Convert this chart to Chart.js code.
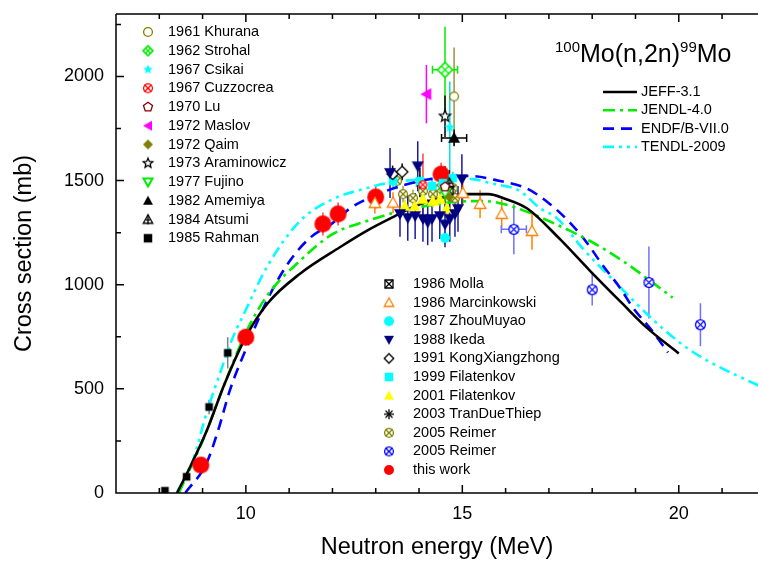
<!DOCTYPE html>
<html>
<head>
<meta charset="utf-8">
<script src="https://cdn.jsdelivr.net/npm/chart.js@4.4.1/dist/chart.umd.min.js"></script>
<style>
  html, body { margin: 0; padding: 0; background: #fff; overflow: hidden; }
  canvas { display: block; }
</style>
</head>
<body>
<canvas id="chart" width="758" height="563"></canvas>
<script>
// ---- evaluated curves: energy (MeV) / cross section (mb) ----
const jeffE  = [8.41, 8.7, 9.1, 9.5, 10.0, 10.5, 11.25, 12.17, 12.8, 13.4, 14.0, 14.6, 15.1, 15.6, 16.0, 16.5, 17.25, 17.95, 18.7, 19.26, 20.0];
const jeffS  = [0, 120, 301, 520, 750, 910, 1053, 1180, 1260, 1325, 1385, 1422, 1435, 1435, 1412, 1366, 1220, 1067, 909, 794, 670];
const jendlE = [8.45, 9.0, 9.5, 10.0, 10.5, 11.25, 12.01, 12.8, 13.4, 14.2, 15.0, 15.5, 16.0, 16.5, 17.25, 17.95, 18.7, 19.86];
const jendlS = [0, 250, 520, 770, 950, 1115, 1244, 1306, 1344, 1380, 1400, 1402, 1385, 1350, 1282, 1210, 1115, 938];
const endfE  = [8.6, 9.09, 9.36, 9.63, 10.0, 10.5, 11.0, 11.48, 12.01, 12.4, 13.0, 13.6, 14.2, 15.18, 15.87, 16.49, 17.02, 17.49, 17.88, 18.25, 18.64, 18.94, 19.38, 19.75];
const endfS  = [0, 143, 301, 493, 690, 930, 1110, 1225, 1297, 1366, 1430, 1475, 1505, 1522, 1498, 1462, 1388, 1297, 1201, 1091, 986, 890, 780, 675];
const tendlE = [8.4, 8.78, 9.09, 9.4, 9.67, 10.0, 10.5, 11.25, 12.01, 12.8, 13.26, 14.0, 14.6, 15.24, 15.64, 16.33, 16.79, 17.18, 17.79, 18.57, 19.26, 19.96, 20.53, 22.0];
const tendlS = [0, 158, 383, 574, 732, 880, 1090, 1306, 1411, 1464, 1488, 1505, 1510, 1507, 1488, 1450, 1368, 1321, 1172, 1005, 861, 732, 651, 500];

// ---- experimental data: energy, cross section, errors ----
const khuranaE = [14.81], khuranaS = [1904], khuranaErr = [235];
const strohalE = [14.6], strohalS = [2032], strohalErr = [207], strohalErrE = [0.29];
const csikaiE = [14.71], csikaiS = [1756], csikaiErr = [220];
const cuzzocreaE = [14.09], cuzzocreaS = [1480], cuzzocreaErr = [150];
const luE = [14.6], luS = [1470], luErr = [100];
const maslovE = [14.17], maslovS = [1915], maslovErr = [140];
const qaimE = [14.7], qaimS = [1420], qaimErr = [80];
const araminowiczE = [14.6], araminowiczS = [1809], araminowiczErr = [100];
const fujinoE = [14.6], fujinoS = [1440], fujinoErr = [80];
const amemiyaE = [14.81], amemiyaS = [1705], amemiyaErr = [40], amemiyaErrE = [0.29];
const atsumiE = [14.7], atsumiS = [1490], atsumiErr = [60];
const rahmanE = [8.13, 8.63, 9.15, 9.58], rahmanS = [11, 78, 413, 673], rahmanErr = [5, 10, 35, 75];
const mollaE = [14.7], mollaS = [1450], mollaErr = [50];
const marcinE = [12.98, 13.4, 15.01, 15.41, 15.91, 16.61], marcinS = [1392, 1394, 1440, 1388, 1340, 1258], marcinErr = [50, 50, 60, 67, 70, 90];
const zhouE = [14.6], zhouS = [1225], zhouErr = [30];
const ikedaE = [13.33, 13.56, 13.74, 13.91, 13.97, 14.09, 14.2, 14.3, 14.48, 14.6, 14.71, 14.83, 14.9, 14.99];
const ikedaS = [1537, 1340, 1321, 1330, 1569, 1316, 1300, 1316, 1330, 1290, 1316, 1340, 1364, 1507];
const ikedaErr = [120, 110, 110, 110, 120, 110, 110, 110, 110, 110, 110, 110, 110, 120];
const kongE = [13.39, 13.61], kongS = [1532, 1542], kongErr = [40, 40];
const filat99E = [13.4, 14.02, 14.3, 14.55, 14.78], filat99S = [1498, 1498, 1474, 1488, 1512], filat99Err = [30, 30, 30, 30, 30];
const filat01E = [13.67, 13.9, 14.09, 14.32, 14.48, 14.64], filat01S = [1378, 1378, 1411, 1402, 1411, 1368], filat01Err = [30, 30, 30, 30, 30, 30];
const tranE = [14.02], tranS = [1490], tranErr = [70];
const reimerAE = [13.49, 13.63, 13.86, 14.09, 14.32, 14.48, 14.78, 14.83], reimerAS = [1498, 1435, 1416, 1450, 1435, 1464, 1464, 1416], reimerAErr = [40, 40, 40, 40, 40, 40, 40, 40];
const reimerBE = [16.19, 18.0, 19.31, 20.5], reimerBS = [1266, 976, 1011, 808], reimerBErr = [120, 76, 173, 103], reimerBErrE = [0.29, 0, 0, 0];
const thisWorkE = [8.96, 10.0, 11.78, 12.13, 13.0, 14.51], thisWorkS = [134, 748, 1292, 1340, 1421, 1531], thisWorkErr = [25, 40, 55, 55, 55, 55];

const xTicks = [10, 15, 20];
const yTicks = [0, 500, 1000, 1500, 2000];

// ---- marker images ----
function makeMarker(kind, color, size) {
  const c = document.createElement('canvas');
  c.width = c.height = Math.ceil(size + 4);
  const g = c.getContext('2d');
  const m = c.width / 2, r = size / 2;
  g.lineWidth = 1.3; g.strokeStyle = color; g.fillStyle = color;
  const poly = (pts, fill) => {
    g.beginPath(); pts.forEach((p, i) => i ? g.lineTo(m + p[0] * r, m + p[1] * r) : g.moveTo(m + p[0] * r, m + p[1] * r));
    g.closePath();
    if (fill) g.fill(); else { g.fillStyle = '#fff'; g.fill(); g.stroke(); g.fillStyle = color; }
  };
  const star = () => { const p = []; for (let i = 0; i < 10; i++) { const a = -Math.PI / 2 + i * Math.PI / 5, k = i % 2 ? 0.45 : 1; p.push([k * Math.cos(a), k * Math.sin(a)]); } return p; };
  const line = (x1, y1, x2, y2) => { g.beginPath(); g.moveTo(m + x1 * r, m + y1 * r); g.lineTo(m + x2 * r, m + y2 * r); g.stroke(); };
  switch (kind) {
    case 'circle': g.beginPath(); g.arc(m, m, r, 0, 7); g.fill(); break;
    case 'oCircle': g.beginPath(); g.arc(m, m, r - 0.6, 0, 7); g.fillStyle = '#fff'; g.fill(); g.stroke(); break;
    case 'xCircle': g.beginPath(); g.arc(m, m, r - 0.6, 0, 7); g.fillStyle = '#fff'; g.fill(); g.stroke();
      line(-0.7, -0.7, 0.7, 0.7); line(-0.7, 0.7, 0.7, -0.7); break;
    case 'square': g.fillRect(m - r * 0.85, m - r * 0.85, r * 1.7, r * 1.7); break;
    case 'squareX': poly([[-0.8, -0.8], [0.8, -0.8], [0.8, 0.8], [-0.8, 0.8]], false);
      line(-0.8, -0.8, 0.8, 0.8); line(-0.8, 0.8, 0.8, -0.8); break;
    case 'tri': poly([[0, -1], [1, 0.8], [-1, 0.8]], true); break;
    case 'triO': poly([[0, -0.95], [0.95, 0.75], [-0.95, 0.75]], false); break;
    case 'triDown': poly([[0, 1], [1, -0.8], [-1, -0.8]], true); break;
    case 'triDownO': g.lineWidth = 2; poly([[0, 0.9], [0.9, -0.7], [-0.9, -0.7]], false); break;
    case 'triLeft': poly([[-1, 0], [0.8, -1], [0.8, 1]], true); break;
    case 'triPlus': poly([[0, -0.95], [0.95, 0.75], [-0.95, 0.75]], false);
      line(0, -1, 0, 1); line(-0.5, 0.1, 0.5, 0.1); break;
    case 'diamond': poly([[0, -1], [1, 0], [0, 1], [-1, 0]], true); break;
    case 'diamondO': poly([[0, -0.95], [0.95, 0], [0, 0.95], [-0.95, 0]], false); break;
    case 'crossDiamond': poly([[0, -1], [1, 0], [0, 1], [-1, 0]], false);
      line(-0.5, -0.5, 0.5, 0.5); line(-0.5, 0.5, 0.5, -0.5);
      line(0, -1, 0.5, -0.5); line(-1, 0, -0.5, -0.5); line(1, 0, 0.5, 0.5); line(0, 1, -0.5, 0.5);
      line(-0.5, 0.5, -1, 0); line(0.5, -0.5, 1, 0); line(0, -1, -0.5, -0.5); line(0, 1, 0.5, 0.5);
      break;
    case 'star5': poly(star(), true); break;
    case 'star5o': poly(star(), false); break;
    case 'pentagon': { const p = []; for (let i = 0; i < 5; i++) { const a = -Math.PI / 2 + i * 2 * Math.PI / 5; p.push([0.95 * Math.cos(a), 0.95 * Math.sin(a)]); } poly(p, false); break; }
    case 'asterisk': line(-1, 0, 1, 0); line(0, -1, 0, 1); line(-0.7, -0.7, 0.7, 0.7); line(-0.7, 0.7, 0.7, -0.7); break;
  }
  return c;
}

// label, E, S, dS, dE, marker, colour, size, bar colour
const series = [
  ['1961 Khurana', khuranaE, khuranaS, khuranaErr, null, 'oCircle', '#808000', 10, '#a09040'],
  ['1962 Strohal', strohalE, strohalS, strohalErr, strohalErrE, 'crossDiamond', '#00ee00', 15, '#00ee00'],
  ['1967 Csikai', csikaiE, csikaiS, csikaiErr, null, 'star5', '#00ffff', 11, '#00e0e0'],
  ['1967 Cuzzocrea', cuzzocreaE, cuzzocreaS, cuzzocreaErr, null, 'xCircle', '#ff0000', 9, '#ff4040'],
  ['1970 Lu', luE, luS, luErr, null, 'pentagon', '#800000', 10, '#800000'],
  ['1972 Maslov', maslovE, maslovS, maslovErr, null, 'triLeft', '#ff00ff', 12, '#ff00ff'],
  ['1972 Qaim', qaimE, qaimS, qaimErr, null, 'diamond', '#808000', 10, '#808000'],
  ['1973 Araminowicz', araminowiczE, araminowiczS, araminowiczErr, null, 'star5o', '#000000', 12, '#000000'],
  ['1977 Fujino', fujinoE, fujinoS, fujinoErr, null, 'triDownO', '#00ee00', 11, '#00ee00'],
  ['1982 Amemiya', amemiyaE, amemiyaS, amemiyaErr, amemiyaErrE, 'tri', '#000000', 12, '#000000'],
  ['1984 Atsumi', atsumiE, atsumiS, atsumiErr, null, 'triPlus', '#000000', 10, '#000000'],
  ['1985 Rahman', rahmanE, rahmanS, rahmanErr, null, 'square', '#000000', 9, '#808080'],
  ['1986 Molla', mollaE, mollaS, mollaErr, null, 'squareX', '#000000', 9, '#000000'],
  ['1986 Marcinkowski', marcinE, marcinS, marcinErr, null, 'triO', '#ff8000', 12, '#ff8000'],
  ['1987 ZhouMuyao', zhouE, zhouS, zhouErr, null, 'circle', '#00ffff', 10, '#00e0e0'],
  ['1988 Ikeda', ikedaE, ikedaS, ikedaErr, null, 'triDown', '#000080', 12, '#1818a0'],
  ['1991 KongXiangzhong', kongE, kongS, kongErr, null, 'diamondO', '#000000', 12, '#000000'],
  ['1999 Filatenkov', filat99E, filat99S, filat99Err, null, 'square', '#00ffff', 10, '#00e0e0'],
  ['2001 Filatenkov', filat01E, filat01S, filat01Err, null, 'tri', '#ffff00', 12, '#e0e000'],
  ['2003 TranDueThiep', tranE, tranS, tranErr, null, 'asterisk', '#000000', 11, '#000000'],
  ['2005 Reimer', reimerAE, reimerAS, reimerAErr, null, 'xCircle', '#808000', 10, '#a0a040'],
  ['2005 Reimer', reimerBE, reimerBS, reimerBErr, reimerBErrE, 'xCircle', '#0000ff', 11, '#7070ff'],
  ['this work', thisWorkE, thisWorkS, thisWorkErr, null, 'circle', '#ff0000', 17, '#ff4040']
];

const curves = [
  ['JEFF-3.1', jeffE, jeffS, '#000000', []],
  ['JENDL-4.0', jendlE, jendlS, '#00ee00', [12, 5, 3, 5]],
  ['ENDF/B-VII.0', endfE, endfS, '#0000ff', [11, 7]],
  ['TENDL-2009', tendlE, tendlS, '#00ffff', [11, 5, 3, 5, 3, 5]]
];

const toPts = (E, S) => E.map((e, i) => ({ x: e, y: S[i] }));

const datasets = [];
curves.forEach(([label, E, S, color, dash]) => {
  datasets.push({
    label, data: toPts(E, S), showLine: true, borderColor: color, borderWidth: 2.6,
    borderDash: dash, pointRadius: 0, cubicInterpolationMode: 'monotone', fill: false, order: 10
  });
});
series.forEach(([label, E, S, dS, dE, kind, color, size, bar]) => {
  datasets.push({
    label, data: toPts(E, S), showLine: false, pointStyle: makeMarker(kind, color, size),
    pointRadius: size / 2, errY: dS, errX: dE, barColor: bar, markerKind: kind, markerColor: color, order: 0
  });
});

// error bars (behind markers)
const errorBars = {
  id: 'errorBars',
  beforeDatasetsDraw(chart) {
    const { ctx, chartArea: a, scales: { x, y } } = chart;
    ctx.save();
    ctx.beginPath(); ctx.rect(a.left, a.top, a.width, a.height); ctx.clip();
    ctx.lineWidth = 1.5;
    chart.data.datasets.forEach(ds => {
      if (!ds.errY) return;
      ctx.strokeStyle = ds.barColor;
      ds.data.forEach((p, i) => {
        const px = x.getPixelForValue(p.x), py = y.getPixelForValue(p.y);
        const dy = ds.errY[i] || 0, dx = ds.errX ? (ds.errX[i] || 0) : 0;
        ctx.beginPath();
        if (dy) { ctx.moveTo(px, y.getPixelForValue(p.y + dy)); ctx.lineTo(px, y.getPixelForValue(p.y - dy)); }
        if (dx) {
          const x1 = x.getPixelForValue(p.x - dx), x2 = x.getPixelForValue(p.x + dx);
          ctx.moveTo(x1, py); ctx.lineTo(x2, py);
          ctx.moveTo(x1, py - 4); ctx.lineTo(x1, py + 4);
          ctx.moveTo(x2, py - 4); ctx.lineTo(x2, py + 4);
        }
        ctx.stroke();
      });
    });
    ctx.restore();
  }
};

// frame, inward ticks, titles and legends
const decorations = {
  id: 'decorations',
  afterDatasetsDraw(chart) {
    const { ctx, chartArea: a, scales: { x, y } } = chart;
    ctx.save();
    ctx.strokeStyle = '#000'; ctx.lineWidth = 1.5;
    ctx.beginPath();
    ctx.moveTo(a.left, a.top); ctx.lineTo(a.right + 2, a.top);
    ctx.moveTo(a.left, a.top); ctx.lineTo(a.left, a.bottom); ctx.lineTo(a.right + 2, a.bottom);
    for (let e = 7; e <= 21; e++) {
      const px = x.getPixelForValue(e), len = e % 5 === 0 ? 8 : 5;
      ctx.moveTo(px, a.bottom); ctx.lineTo(px, a.bottom - len);
      ctx.moveTo(px, a.top); ctx.lineTo(px, a.top + len);
    }
    for (let s = 0; s <= 2250; s += 250) {
      const py = y.getPixelForValue(s), len = s % 500 === 0 ? 8 : 5;
      ctx.moveTo(a.left, py); ctx.lineTo(a.left + len, py);
    }
    ctx.stroke();

    ctx.fillStyle = '#000';
    ctx.font = '23.5px "Liberation Sans", Arial, sans-serif';
    ctx.textAlign = 'center'; ctx.textBaseline = 'middle';
    ctx.fillText('Neutron energy (MeV)', (a.left + a.right) / 2, 548);
    ctx.save(); ctx.translate(25, (a.top + a.bottom) / 2); ctx.rotate(-Math.PI / 2);
    ctx.fillText('Cross section (mb)', 0, 0); ctx.restore();

    // reaction label
    ctx.textAlign = 'left'; ctx.textBaseline = 'alphabetic';
    let tx = 555;
    const part = (t, size, dy) => { ctx.font = size + 'px "Liberation Sans", Arial, sans-serif'; ctx.fillText(t, tx, 62 + dy); tx += ctx.measureText(t).width; };
    part('100', 15, -10); part('Mo(n,2n)', 25, 0); part('99', 15, -10); part('Mo', 25, 0);

    // marker legends
    ctx.font = '14.5px "Liberation Sans", Arial, sans-serif';
    ctx.textBaseline = 'middle';
    const markerSets = chart.data.datasets.filter(d => d.errY);
    markerSets.forEach((d, i) => {
      const first = i < 12;
      const mx = first ? 148 : 389, tx2 = first ? 168 : 413;
      const my = first ? 32 + i * 18.75 : 284 + (i - 12) * 18.6;
      const img = makeMarker(d.markerKind, d.markerColor, 10);
      ctx.drawImage(img, mx - img.width / 2, my - img.height / 2);
      ctx.fillText(d.label, tx2, my);
    });

    // line legend
    chart.data.datasets.filter(d => !d.errY).forEach((d, i) => {
      const ly = 92 + i * 18.3;
      ctx.save();
      ctx.strokeStyle = d.borderColor; ctx.lineWidth = 2.6; ctx.setLineDash(d.borderDash);
      ctx.beginPath(); ctx.moveTo(603, ly); ctx.lineTo(637, ly); ctx.stroke();
      ctx.restore();
      ctx.fillText(d.label, 641, ly);
    });
    ctx.restore();
  }
};

new Chart(document.getElementById('chart'), {
  type: 'scatter',
  data: { datasets },
  plugins: [errorBars, decorations],
  options: {
    responsive: false,
    animation: false,
    layout: { autoPadding: false, padding: { top: 14, left: 0, right: 0, bottom: 0 } },
    plugins: { legend: { display: false }, tooltip: { enabled: false } },
    scales: {
      x: {
        type: 'linear', min: 7, max: 21.83,
        afterFit: s => { s.height = 70; s.paddingLeft = 0; s.paddingRight = 0; },
        afterBuildTicks: s => { s.ticks = xTicks.map(v => ({ value: v })); },
        grid: { display: false, drawTicks: false }, border: { display: false },
        ticks: { color: '#000', padding: 10, maxRotation: 0, callback: v => String(v), font: { size: 18, family: '"Liberation Sans", Arial, sans-serif' } }
      },
      y: {
        type: 'linear', min: 0, max: 2300,
        afterFit: s => { s.width = 116; s.paddingTop = 0; s.paddingBottom = 0; },
        afterBuildTicks: s => { s.ticks = yTicks.map(v => ({ value: v })); },
        grid: { display: false, drawTicks: false }, border: { display: false },
        ticks: { color: '#000', padding: 12, callback: v => String(v), font: { size: 18, family: '"Liberation Sans", Arial, sans-serif' } }
      }
    }
  }
});
</script>
</body>
</html>
